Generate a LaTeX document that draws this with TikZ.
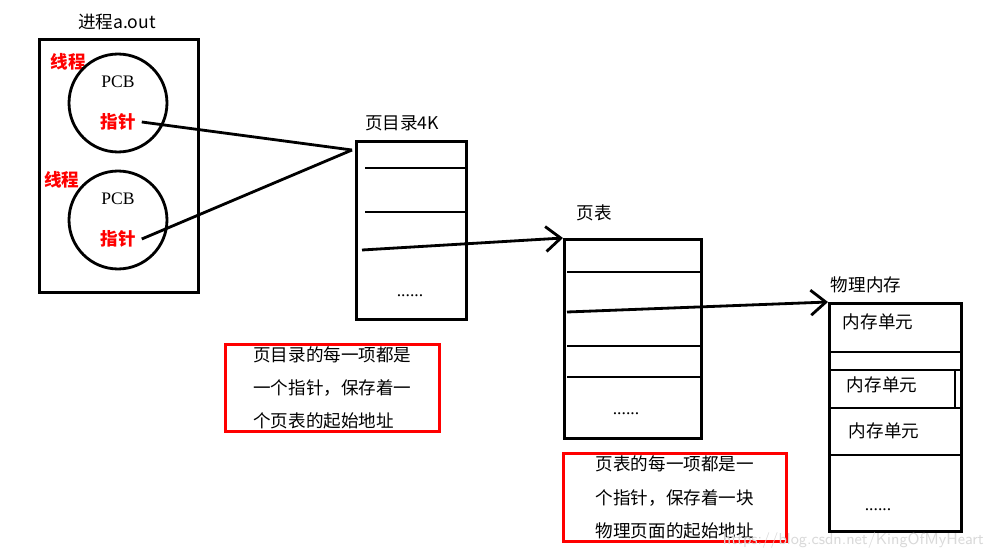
\documentclass[tikz,border=0pt]{standalone}
\usepackage{fontspec}
\setmainfont{Liberation Serif}
\newfontfamily\cjk{Noto Sans CJK SC}
\usetikzlibrary{arrows.meta,positioning}
\begin{document}
\begin{tikzpicture}[x=0.02cm,y=-0.02cm]
  \tikzstyle{edge}  = [line width=1.6pt,draw=black]
  \tikzstyle{dedge} = [line width=1.6pt,-{Straight Barb[length=3mm,width=5mm]},draw=black]
  \tikzstyle{frame} = [rectangle,draw=black,line width=1.6pt,anchor=north west]
  \tikzstyle{note}  = [rectangle,draw=red,line width=1.6pt,anchor=north west,
    align=left,inner xsep=0.22cm,inner ysep=0pt,font=\cjk\fontsize{10}{19}\selectfont]
  \tikzstyle{title} = [font=\cjk\fontsize{10}{12}\selectfont]
  \tikzstyle{rtext} = [font=\cjk\fontsize{10}{12}\selectfont\bfseries,text=red]

  \useasboundingbox[fill=white] (0,0) rectangle (995,558);

  % process
  \node[title] (proc title) at (117,22) {进程a.out};
  \node[frame,minimum width=3.18cm,minimum height=5.06cm] (proc) at (38,38) {};
  \node[rtext] (thread I)  at (68,62)  {线程};
  \node[rtext] (thread II) at (62,180) {线程};

  % pcbs
  \foreach \n/\y in {I/103,II/220}{
    \node[circle,draw,line width=1.6pt,minimum size=1.96cm] (pcb \n) at (118,\y) {};
    \node[font=\fontsize{10}{12}\selectfont] at ([yshift=0.42cm]pcb \n.center) {PCB};
    \node[rtext] (ptr \n) at ([yshift=-0.38cm]pcb \n.center) {指针};
  }

  % page directory
  \node[title] (dir title) at (402,123) {页目录4K};
  \node[frame,minimum width=2.2cm,minimum height=3.56cm] (dir) at (355,140) {};
  \coordinate (dir in) at (352,150);
  \foreach \y in {168,212}
    \draw[edge] (365,\y) -- (465,\y);
  \node (dir dots) at (410,296) {......};

  % page table
  \node[title] (tab title) at (594,213) {页表};
  \node[frame,minimum width=2.74cm,minimum height=3.98cm] (tab) at (563,238) {};
  \foreach \y in {272,346,377}
    \draw[edge] (567,\y) -- (700,\y);
  \node (tab dots) at (626,414) {......};

  % physical memory
  \node[title] (mem title) at (866,285) {物理内存};
  \node[frame,minimum width=2.64cm,minimum height=4.56cm] (mem) at (828,302) {};
  \foreach \y in {352,370,408,455}
    \draw[edge] (828,\y) -- (960,\y);
  \draw[edge] (955,370) -- (955,408);
  \node[title] (cell I)   at (878,322) {内存单元};
  \node[title] (cell II)  at (882,385) {内存单元};
  \node[title] (cell III) at (884,431) {内存单元};
  \node (mem dots) at (878,510) {......};

  % wiring
  \draw[edge] (ptr I.east) -- (dir in);
  \draw[edge] (ptr II.east) -- (dir in);
  \draw[dedge] (362,250) -- (tab.north west);
  \draw[dedge] (567,312) -- (mem.north west);

  % notes
  \node[note,minimum width=4.28cm,minimum height=1.74cm] (note I) at (224,343)
    {页目录的每一项都是\\一个指针，保存着一\\个页表的起始地址};
  \node[note,minimum width=4.46cm,minimum height=1.76cm] (note II) at (562,452)
    {页表的每一项都是一\\个指针，保存着一块\\物理页面的起始地址};

  \node[text=black!15,font=\sffamily\fontsize{9}{10}\selectfont,anchor=east] (mark) at (990,541)
    {https://blog.csdn.net/KingOfMyHeart};
\end{tikzpicture}
\end{document}
